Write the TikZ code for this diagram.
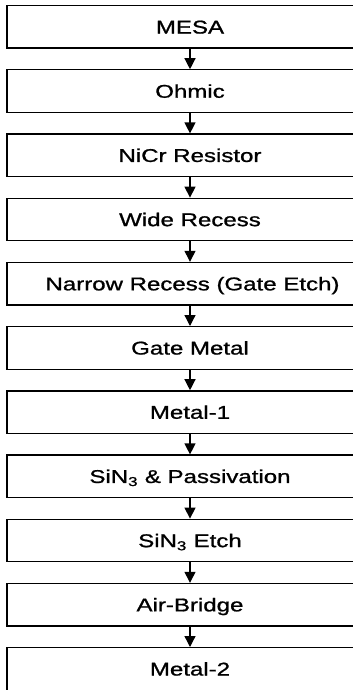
\documentclass[tikz,border=0pt]{standalone}
\usepackage{fontspec}
\setmainfont{Liberation Sans}
\newfontfamily\scanfont[FakeBold=0.9]{Liberation Sans}
\usetikzlibrary{arrows.meta}
\newcommand{\widetxt}[1]{\scalebox{1.3}[1]{#1}}
\begin{document}
\begin{tikzpicture}[x=1pt,y=-1pt,
  stepbox/.style={draw=black, line width=1.3pt, minimum width=366pt, minimum height=42.5pt, inner sep=0pt, text height=13.3pt, text depth=0pt, font=\scanfont\fontsize{18.5}{22}\selectfont, anchor=north},
  flow/.style={line width=1.3pt, -{Triangle[length=11pt,width=11pt]}}]
\useasboundingbox (0,0) rectangle (353,690);
\clip (0,0) rectangle (353,690);
\fill[white] (0,0) rectangle (353,690);
\foreach \name/\txt/\dx [count=\i from 0] in {
  a/MESA/0, b/Ohmic/0, c/NiCr Resistor/0, d/Wide Recess/0, e/Narrow Recess (Gate Etch)/5,
  f/Gate Metal/0, g/Metal-1/0, h/SiN\textsubscript{3} \& Passivation/0, i/SiN\textsubscript{3} Etch/0,
  j/Air-Bridge/0, k/Metal-2/0} {
  \node[stepbox] (\name) at (190, 5+64.2*\i) {\hspace*{\dx pt}\widetxt{\txt}};
}
\foreach \u/\v in {a/b,b/c,c/d,d/e,e/f,f/g,g/h,h/i,i/j,j/k} {
  \draw[flow] (\u.south -| 190,0) -- (\v.north -| 190,0);
}
\end{tikzpicture}
\end{document}
